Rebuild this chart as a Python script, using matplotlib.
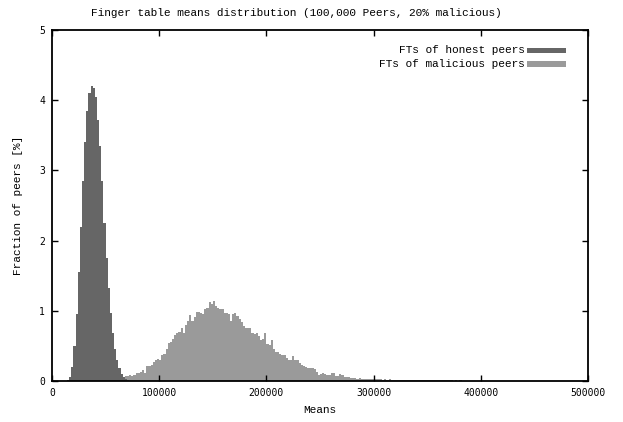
import numpy as np
import matplotlib
matplotlib.use("Agg")
import matplotlib.pyplot as plt
from matplotlib.patches import Rectangle

# histogram bins are 2000 wide, values are bin starts
bin_width = 2000

honest_start = 14000
honest = [0.02, 0.06, 0.2, 0.5, 0.95, 1.55, 2.2, 2.85, 3.4, 3.85,
          4.1, 4.2, 4.18, 4.05, 3.72, 3.35, 2.85, 2.25, 1.75, 1.32,
          0.97, 0.68, 0.46, 0.3, 0.18, 0.1, 0.06, 0.03, 0.015, 0.005]

malicious_start = 60000
malicious = [0.03, 0.04, 0.05, 0.06, 0.07, 0.07, 0.08, 0.07, 0.085, 0.11,
             0.11, 0.13, 0.155, 0.12, 0.215, 0.215, 0.23, 0.27, 0.3, 0.32,
             0.3, 0.37, 0.39, 0.45, 0.54, 0.56, 0.6, 0.66, 0.68, 0.7,
             0.75, 0.68, 0.8, 0.86, 0.94, 0.86, 0.91, 0.99, 0.98, 0.97,
             0.96, 1.02, 1.04, 1.13, 1.1, 1.14, 1.07, 1.04, 1.03, 1.03,
             0.97, 0.97, 0.95, 0.86, 0.95, 0.97, 0.93, 0.88, 0.84, 0.79,
             0.76, 0.76, 0.76, 0.68, 0.67, 0.69, 0.64, 0.59, 0.6, 0.68,
             0.52, 0.51, 0.58, 0.45, 0.42, 0.41, 0.39, 0.37, 0.37, 0.33,
             0.3, 0.3, 0.36, 0.3, 0.3, 0.26, 0.23, 0.21, 0.2, 0.19,
             0.19, 0.19, 0.17, 0.13, 0.09, 0.1, 0.11, 0.1, 0.085, 0.085,
             0.12, 0.11, 0.07, 0.065, 0.1, 0.08, 0.06, 0.05, 0.05, 0.045,
             0.04, 0.04, 0.035, 0.04, 0.035, 0.03, 0.035, 0.03, 0.03, 0.03,
             0.025, 0.025, 0.03, 0.025, 0.02, 0.025, 0.02, 0.025, 0.02, 0.02,
             0.02, 0.02, 0.015, 0.02, 0.015, 0.02, 0.015, 0.015, 0.015, 0.015,
             0.015, 0.015, 0.015, 0.01, 0.015, 0.01, 0.015, 0.01, 0.01, 0.01,
             0.01, 0.01, 0.01, 0.01, 0.01, 0.01, 0.01, 0.005, 0.01, 0.005,
             0.01, 0.005, 0.005, 0.005, 0.005, 0.005, 0.005, 0.005, 0.005, 0.005,
             0.005, 0.005, 0.005, 0.005, 0.005, 0.005, 0.005, 0.005, 0.005, 0.005]

xticks = [0, 100000, 200000, 300000, 400000, 500000]
yticks = [0, 1, 2, 3, 4, 5]

honest_edges = honest_start + bin_width * np.arange(len(honest) + 1)
mal_edges = malicious_start + bin_width * np.arange(len(malicious) + 1)

c_honest = "#666666"
c_mal = "#9a9a9a"
mono = "Liberation Mono"
tickfont = "DejaVu Sans Mono"

fig = plt.figure(figsize=(6.23, 4.22), dpi=100)
ax = fig.add_axes([52/623, 1-381/422, 536/623, 351/422])

# stairs with fill: no seams between bins
ax.stairs(malicious, mal_edges, fill=True, color=c_mal, linewidth=0, zorder=1)
ax.stairs(honest, honest_edges, fill=True, color=c_honest, linewidth=0, zorder=2)

ax.set_xlim(0, 500000)
ax.set_ylim(0, 5)
ax.set_xticks(xticks)
ax.set_yticks(yticks)
ax.set_xticklabels([str(t) for t in xticks], fontname=tickfont, fontsize=7)
ax.set_yticklabels([str(t) for t in yticks], fontname=tickfont, fontsize=7)
ax.tick_params(direction="in", length=4, width=1, top=True, right=True, pad=5, colors="black")
for s in ax.spines.values():
    s.set_linewidth(1.3)
    s.set_zorder(5)

ax.set_xlabel("Means", fontname=mono, fontsize=8, labelpad=5)
ax.set_ylabel("Fraction of peers [%]", fontname=mono, fontsize=8, labelpad=12)
fig.text(296/623, 1-13/422, "Finger table means distribution (100,000 Peers, 20% malicious)",
         fontname=mono, fontsize=8, ha="center", va="center")

# legend drawn by hand, gnuplot style
labels = ["FTs of honest peers", "FTs of malicious peers"]
colors = [c_honest, c_mal]
rows = [0.9416, 0.903]
for lab, col, yy in zip(labels, colors, rows):
    ax.text(0.8825, yy, lab, transform=ax.transAxes, ha="right", va="center",
            fontname=mono, fontsize=8)
    ax.add_patch(Rectangle((0.886, yy - 0.008), 0.073, 0.016, transform=ax.transAxes,
                           color=col, linewidth=0))

fig.savefig("out.png", dpi=100)
